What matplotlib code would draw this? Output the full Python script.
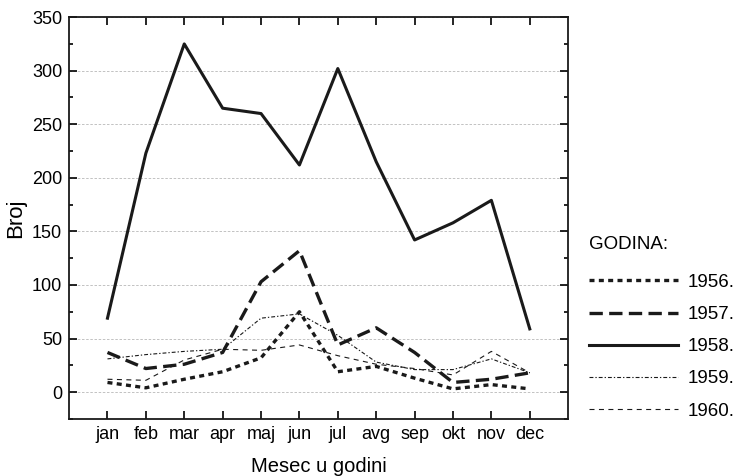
import matplotlib.pyplot as plt
from matplotlib.ticker import MultipleLocator

plt.rcParams['font.family'] = ['Liberation Sans', 'DejaVu Sans']

# meseci
meseci = ["jan", "feb", "mar", "apr", "maj", "jun", "jul", "avg", "sep", "okt", "nov", "dec"]

# broj po godinama (ocitano sa grafika)
g1956 = [9, 4, 12, 19, 32, 75, 19, 24, 13, 3, 7, 3]
g1957 = [37, 22, 26, 37, 103, 132, 44, 60, 37, 9, 12, 18]
g1958 = [69, 223, 325, 265, 260, 212, 302, 215, 142, 158, 179, 59]
g1959 = [31, 35, 38, 40, 69, 73, 53, 28, 21, 21, 31, 18]
g1960 = [12, 11, 30, 40, 39, 44, 34, 26, 22, 16, 38, 18]

godine = ["1956.", "1957.", "1958.", "1959.", "1960."]


def main():
    fig = plt.figure(figsize=(7.35, 4.76), dpi=100)
    ax = fig.add_axes([0.094, 0.12, 0.679, 0.844])

    x = list(range(1, 13))
    boja = "#1a1a1a"

    ax.plot(x, g1956, color=boja, lw=2.4, dashes=(1.5, 1.3), label=godine[0])
    ax.plot(x, g1957, color=boja, lw=2.4, dashes=(4.0, 1.9), label=godine[1])
    ax.plot(x, g1958, color=boja, lw=2.2, label=godine[2])
    ax.plot(x, g1959, color=boja, lw=0.8, dashes=(3.5, 1.8, 1.2, 1.8), label=godine[3])
    ax.plot(x, g1960, color=boja, lw=0.8, dashes=(4.5, 4), label=godine[4])

    ax.set_xlim(0, 13)
    ax.set_ylim(-25, 350)
    ax.set_xticks(x)
    ax.set_xticklabels(meseci)
    ax.yaxis.set_major_locator(MultipleLocator(50))
    ax.yaxis.set_minor_locator(MultipleLocator(25))
    ax.set_yticks(range(0, 351, 50))

    ax.tick_params(axis="both", which="major", direction="in", length=5.5, width=1.2,
                   top=True, right=True, labelsize=13, pad=5)
    ax.tick_params(axis="y", which="minor", direction="in", length=3, width=1.2, right=True)
    for s in ax.spines.values():
        s.set_linewidth(1.3)
        s.set_color(boja)

    ax.grid(True, axis="y", which="major", color="#b8b8b8", linestyle=(0, (3, 2)), lw=0.6)
    ax.set_axisbelow(True)

    ax.set_ylabel("Broj", fontsize=16, labelpad=4)
    ax.set_xlabel("Mesec u godini", fontsize=14.5, labelpad=10)

    leg = ax.legend(title="GODINA:", loc="upper left", bbox_to_anchor=(0.802, 0.504),
                    bbox_transform=fig.transFigure, frameon=False, fontsize=13.5,
                    title_fontsize=13.5, handlelength=4.7, labelspacing=0.8,
                    handletextpad=0.55, borderaxespad=0, borderpad=0)
    leg._legend_box.align = "left"
    leg._legend_box.sep = 15

    fig.savefig("out.png", dpi=100)


if __name__ == "__main__":
    main()
